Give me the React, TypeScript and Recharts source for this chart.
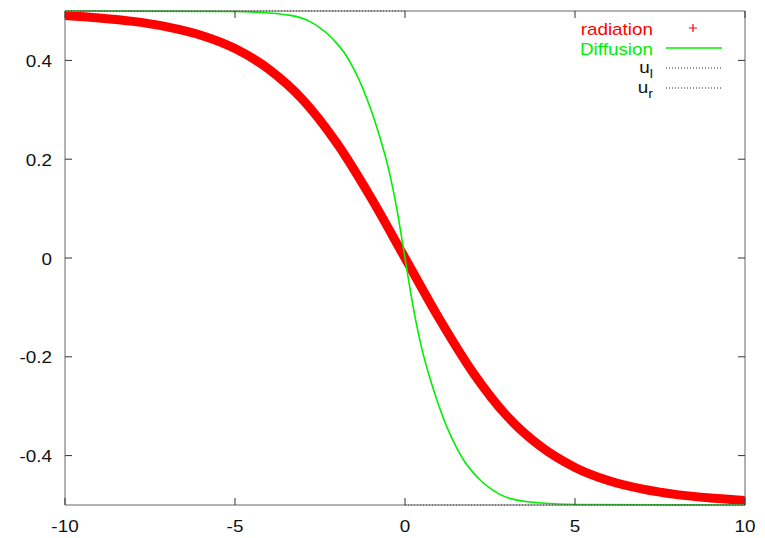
import { LineChart, Line, XAxis, YAxis } from 'recharts';

// radiation solution (dense "+" points, drawn as a thick band)
const radiationX = [-10, -9, -8, -7, -6, -5, -4, -3, -2, -1, 0, 1, 2, 3, 4, 5, 6, 7, 8, 9, 10];
const radiationU = [0.491, 0.486, 0.479, 0.468, 0.451, 0.424, 0.382, 0.32, 0.232, 0.122, 0.0, -0.122, -0.232, -0.32, -0.382, -0.424, -0.451, -0.468, -0.479, -0.486, -0.491];

// diffusion approximation
const diffusionX = [-10, -5, -4, -3.5, -3, -2.75, -2.5, -2.25, -2, -1.75, -1.5, -1.25, -1, -0.75, -0.5, -0.25, 0, 0.25, 0.5, 0.75, 1, 1.25, 1.5, 1.75, 2, 2.25, 2.5, 2.75, 3, 3.5, 4, 5, 10];
const diffusionU = [0.5, 0.499, 0.496, 0.4925, 0.485, 0.477, 0.466, 0.452, 0.434, 0.412, 0.382, 0.345, 0.3, 0.247, 0.185, 0.103, 0.0, -0.103, -0.185, -0.247, -0.3, -0.345, -0.382, -0.412, -0.434, -0.452, -0.466, -0.477, -0.485, -0.4925, -0.496, -0.499, -0.5];

// left and right states
const leftX = [-10, 0];
const leftU = [0.5, 0.5];
const rightX = [0, 10];
const rightU = [-0.5, -0.5];

const xTicks = [-10, -5, 0, 5, 10];
const yTicks = [-0.4, -0.2, 0, 0.2, 0.4];
const names = ['radiation', 'Diffusion', 'u', 'u'];
const subs = ['', '', 'l', 'r'];

const toRows = (xs: number[], us: number[]) => xs.map((x, i) => ({ x, u: us[i] }));

const W = 765;
const H = 538;
// plot frame
const PL = 65;
const PR = 745;
const PT = 11;
const PB = 505;
const TICK = 7;
const font = '"Liberation Sans", Arial, sans-serif';
const stretch = 1.18;
const axisColor = '#666';
const tickColor = '#333';
const green = '#00f000';

const coordOf = (props: any, key: 'x' | 'y') =>
  props.payload && typeof props.payload.coordinate === 'number' ? props.payload.coordinate : props[key];

function BottomTick(props: any) {
  const c = coordOf(props, 'x');
  return (
    <g>
      <line x1={c} x2={c} y1={PB} y2={PB - TICK} stroke={tickColor} />
      <text
        transform={`translate(${c},${PB + 27}) scale(${stretch},1)`}
        textAnchor="middle"
        fontFamily={font}
        fontSize={16}
        fill="#111"
      >
        {props.payload.value}
      </text>
    </g>
  );
}

function TopTick(props: any) {
  const c = coordOf(props, 'x');
  return <line x1={c} x2={c} y1={PT} y2={PT + TICK} stroke={tickColor} />;
}

function LeftTick(props: any) {
  const c = coordOf(props, 'y');
  return (
    <g>
      <line x1={PL} x2={PL + TICK} y1={c} y2={c} stroke={tickColor} />
      <text
        transform={`translate(${PL - 13},${c + 6.5}) scale(${stretch},1)`}
        textAnchor="end"
        fontFamily={font}
        fontSize={16}
        fill="#111"
      >
        {props.payload.value}
      </text>
    </g>
  );
}

function RightTick(props: any) {
  const c = coordOf(props, 'y');
  return <line x1={PR} x2={PR - TICK} y1={c} y2={c} stroke={tickColor} />;
}

function Key() {
  const textRight = 653;
  const rows = [35, 55, 73, 93];
  const midY = [28, 48, 68, 88];
  return (
    <svg width={W} height={H} style={{ position: 'absolute', left: 0, top: 0, pointerEvents: 'none' }}>
      {names.map((n, i) => (
        <text
          key={i}
          transform={`translate(${textRight},${rows[i]}) scale(${stretch},1)`}
          textAnchor="end"
          fontFamily={font}
          fontSize={16}
          fill={i === 0 ? '#ff0000' : i === 1 ? green : '#111'}
        >
          {n}
          {subs[i] && (
            <tspan fontSize={12} dy={5}>
              {subs[i]}
            </tspan>
          )}
        </text>
      ))}
      <path d={`M689 ${midY[0]} h8 M693 ${midY[0] - 4} v8`} stroke="#ff0000" strokeWidth={1.2} />
      <line x1={666} x2={722} y1={midY[1]} y2={midY[1]} stroke={green} strokeWidth={1.6} />
      <line x1={666} x2={722} y1={midY[2]} y2={midY[2]} stroke="#222" strokeWidth={1} strokeDasharray="1 2" />
      <line x1={666} x2={722} y1={midY[3]} y2={midY[3]} stroke="#222" strokeWidth={1} strokeDasharray="1 2" />
    </svg>
  );
}

export default function App() {
  return (
    <div style={{ position: 'absolute', left: 0, top: 0, width: W, height: H, background: '#fff' }}>
      <LineChart width={W} height={H} margin={{ top: PT - 1, right: W - PR - 1, bottom: 0, left: 0 }}>
        <XAxis
          dataKey="x"
          type="number"
          domain={[-10, 10]}
          ticks={xTicks}
          height={H - PB}
          tickSize={0}
          tickLine={false}
          stroke={axisColor}
          tick={<BottomTick />}
        />
        <XAxis
          xAxisId="top"
          orientation="top"
          dataKey="x"
          type="number"
          domain={[-10, 10]}
          ticks={xTicks}
          height={1}
          tickSize={0}
          tickLine={false}
          stroke={axisColor}
          tick={<TopTick />}
        />
        <YAxis
          type="number"
          domain={[-0.5, 0.5]}
          ticks={yTicks}
          width={PL}
          tickSize={0}
          tickLine={false}
          stroke={axisColor}
          tick={<LeftTick />}
        />
        <YAxis
          yAxisId="right"
          orientation="right"
          type="number"
          domain={[-0.5, 0.5]}
          ticks={yTicks}
          width={1}
          tickSize={0}
          tickLine={false}
          stroke={axisColor}
          tick={<RightTick />}
        />
        <Line
          data={toRows(radiationX, radiationU)}
          dataKey="u"
          type="monotone"
          stroke="#ff0000"
          strokeWidth={9}
          dot={false}
          isAnimationActive={false}
        />
        <Line
          data={toRows(diffusionX, diffusionU)}
          dataKey="u"
          type="monotone"
          stroke={green}
          strokeWidth={1.6}
          dot={false}
          isAnimationActive={false}
        />
        <Line
          data={toRows(leftX, leftU)}
          xAxisId="top"
          yAxisId="right"
          dataKey="u"
          type="linear"
          stroke="#222"
          strokeWidth={1}
          strokeDasharray="1 2"
          dot={false}
          isAnimationActive={false}
        />
        <Line
          data={toRows(rightX, rightU)}
          xAxisId="top"
          yAxisId="right"
          dataKey="u"
          type="linear"
          stroke="#222"
          strokeWidth={1}
          strokeDasharray="1 2"
          dot={false}
          isAnimationActive={false}
        />
      </LineChart>
      <Key />
    </div>
  );
}
